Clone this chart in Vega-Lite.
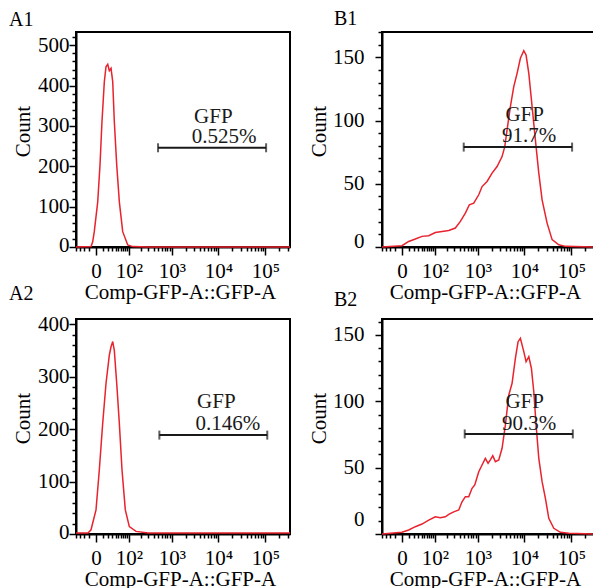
{
  "$schema": "https://vega.github.io/schema/vega-lite/v6.json",
  "padding": {"left": 8, "top": 8, "right": 0, "bottom": 0},
  "background": "white",
  "bounds": "flush",
  "columns": 2,
  "spacing": {"row": 72, "column": 92},
  "datasets": {
    "hist": [
      {"panel": "A1", "fl": -41.6, "count": 0}, {"panel": "A1", "fl": -6.9, "count": 1}, {"panel": "A1", "fl": -4.4, "count": 13}, {"panel": "A1", "fl": -2.2, "count": 38}, {"panel": "A1", "fl": 2.2, "count": 112}, {"panel": "A1", "fl": 5.4, "count": 203}, {"panel": "A1", "fl": 8.5, "count": 311}, {"panel": "A1", "fl": 12.6, "count": 410}, {"panel": "A1", "fl": 15.8, "count": 447}, {"panel": "A1", "fl": 19.4, "count": 453}, {"panel": "A1", "fl": 23.0, "count": 437}, {"panel": "A1", "fl": 27.2, "count": 443}, {"panel": "A1", "fl": 31.7, "count": 410}, {"panel": "A1", "fl": 36.3, "count": 311}, {"panel": "A1", "fl": 44.0, "count": 203}, {"panel": "A1", "fl": 53.4, "count": 112}, {"panel": "A1", "fl": 67.5, "count": 38}, {"panel": "A1", "fl": 93.3, "count": 5}, {"panel": "A1", "fl": 126, "count": 1}, {"panel": "A1", "fl": 300, "count": 0}, {"panel": "A1", "fl": 335000, "count": 0},
      {"panel": "A2", "fl": -41.6, "count": 2}, {"panel": "A2", "fl": -12, "count": 2}, {"panel": "A2", "fl": -6.9, "count": 8}, {"panel": "A2", "fl": 0, "count": 46}, {"panel": "A2", "fl": 4.4, "count": 122}, {"panel": "A2", "fl": 9.7, "count": 211}, {"panel": "A2", "fl": 15.8, "count": 287}, {"panel": "A2", "fl": 23.0, "count": 341}, {"panel": "A2", "fl": 27.2, "count": 357}, {"panel": "A2", "fl": 31.7, "count": 367}, {"panel": "A2", "fl": 36.3, "count": 350}, {"panel": "A2", "fl": 44.0, "count": 287}, {"panel": "A2", "fl": 53.4, "count": 211}, {"panel": "A2", "fl": 64.4, "count": 122}, {"panel": "A2", "fl": 80.1, "count": 46}, {"panel": "A2", "fl": 102.9, "count": 14}, {"panel": "A2", "fl": 152.6, "count": 5}, {"panel": "A2", "fl": 300, "count": 2}, {"panel": "A2", "fl": 335000, "count": 2},
      {"panel": "B1", "fl": -41.6, "count": 0}, {"panel": "B1", "fl": 0, "count": 1}, {"panel": "B1", "fl": 9.7, "count": 4.4}, {"panel": "B1", "fl": 23.0, "count": 6.3}, {"panel": "B1", "fl": 41.6, "count": 8.4}, {"panel": "B1", "fl": 67.5, "count": 8.9}, {"panel": "B1", "fl": 102.9, "count": 11.5}, {"panel": "B1", "fl": 152.6, "count": 12.3}, {"panel": "B1", "fl": 222, "count": 13.1}, {"panel": "B1", "fl": 316, "count": 15}, {"panel": "B1", "fl": 411, "count": 20.2}, {"panel": "B1", "fl": 532, "count": 26.8}, {"panel": "B1", "fl": 652, "count": 33.4}, {"panel": "B1", "fl": 815, "count": 34.7}, {"panel": "B1", "fl": 1048, "count": 41.3}, {"panel": "B1", "fl": 1237, "count": 47.8}, {"panel": "B1", "fl": 1588, "count": 51.8}, {"panel": "B1", "fl": 2035, "count": 58.4}, {"panel": "B1", "fl": 2607, "count": 63.6}, {"panel": "B1", "fl": 3338, "count": 71.5}, {"panel": "B1", "fl": 3815, "count": 79.4}, {"panel": "B1", "fl": 4273, "count": 92.6}, {"panel": "B1", "fl": 5028, "count": 111}, {"panel": "B1", "fl": 5943, "count": 126.8}, {"panel": "B1", "fl": 6990, "count": 137.3}, {"panel": "B1", "fl": 8225, "count": 149.2}, {"panel": "B1", "fl": 9725, "count": 155.2}, {"panel": "B1", "fl": 10880, "count": 151.8}, {"panel": "B1", "fl": 12430, "count": 137.3}, {"panel": "B1", "fl": 14625, "count": 111}, {"panel": "B1", "fl": 17180, "count": 84.7}, {"panel": "B1", "fl": 20300, "count": 58.4}, {"panel": "B1", "fl": 23870, "count": 37.3}, {"panel": "B1", "fl": 30500, "count": 18.9}, {"panel": "B1", "fl": 39000, "count": 5.8}, {"panel": "B1", "fl": 54150, "count": 1.8}, {"panel": "B1", "fl": 74850, "count": 0.5}, {"panel": "B1", "fl": 335000, "count": 0},
      {"panel": "B2", "fl": -41.6, "count": 0}, {"panel": "B2", "fl": 0, "count": 1.3}, {"panel": "B2", "fl": 9.7, "count": 3}, {"panel": "B2", "fl": 23.0, "count": 5.5}, {"panel": "B2", "fl": 41.6, "count": 7.5}, {"panel": "B2", "fl": 67.5, "count": 10.5}, {"panel": "B2", "fl": 102.9, "count": 13}, {"panel": "B2", "fl": 138, "count": 12.3}, {"panel": "B2", "fl": 184, "count": 13}, {"panel": "B2", "fl": 222, "count": 14.8}, {"panel": "B2", "fl": 290, "count": 16.7}, {"panel": "B2", "fl": 378, "count": 18.1}, {"panel": "B2", "fl": 448, "count": 24.3}, {"panel": "B2", "fl": 532, "count": 28.1}, {"panel": "B2", "fl": 632, "count": 28.1}, {"panel": "B2", "fl": 748, "count": 34.4}, {"panel": "B2", "fl": 858, "count": 37}, {"panel": "B2", "fl": 1048, "count": 46.9}, {"panel": "B2", "fl": 1237, "count": 52}, {"panel": "B2", "fl": 1458, "count": 57}, {"panel": "B2", "fl": 1670, "count": 53.3}, {"panel": "B2", "fl": 1870, "count": 55.8}, {"panel": "B2", "fl": 2108, "count": 59}, {"panel": "B2", "fl": 2398, "count": 54.5}, {"panel": "B2", "fl": 2837, "count": 55.8}, {"panel": "B2", "fl": 3338, "count": 64.6}, {"panel": "B2", "fl": 3930, "count": 82.1}, {"panel": "B2", "fl": 4645, "count": 104.7}, {"panel": "B2", "fl": 5467, "count": 113.6}, {"panel": "B2", "fl": 6430, "count": 132.4}, {"panel": "B2", "fl": 7343, "count": 144.9}, {"panel": "B2", "fl": 8225, "count": 147.5}, {"panel": "B2", "fl": 9725, "count": 137.4}, {"panel": "B2", "fl": 10880, "count": 129.8}, {"panel": "B2", "fl": 12430, "count": 133.6}, {"panel": "B2", "fl": 14125, "count": 124.9}, {"panel": "B2", "fl": 15890, "count": 107.2}, {"panel": "B2", "fl": 17790, "count": 82.1}, {"panel": "B2", "fl": 20300, "count": 57}, {"panel": "B2", "fl": 23870, "count": 39.4}, {"panel": "B2", "fl": 28080, "count": 26.9}, {"panel": "B2", "fl": 33150, "count": 11.8}, {"panel": "B2", "fl": 42380, "count": 4.3}, {"panel": "B2", "fl": 58620, "count": 1.3}, {"panel": "B2", "fl": 88430, "count": 0.5}, {"panel": "B2", "fl": 335000, "count": 0}
    ],
    "gates": [
      {"panel": "A1", "fl": 497, "fl2": 103900, "count": 246},
      {"panel": "A2", "fl": 532, "fl2": 110000, "count": 188.6},
      {"panel": "B1", "fl": 489, "fl2": 103900, "count": 79},
      {"panel": "B2", "fl": 515, "fl2": 107600, "count": 75.4}
    ],
    "texts": [
      {"panel": "A1", "fl": 3025, "count": 308, "label": "GFP"},
      {"panel": "A1", "fl": 2700, "count": 258, "label": "0.525%"},
      {"panel": "A2", "fl": 3508, "count": 240, "label": "GFP"},
      {"panel": "A2", "fl": 3226, "count": 198, "label": "0.146%"},
      {"panel": "B1", "fl": 3930, "count": 100, "label": "GFP"},
      {"panel": "B1", "fl": 3338, "count": 83.3, "label": "91.7%"},
      {"panel": "B2", "fl": 3930, "count": 94.7, "label": "GFP"},
      {"panel": "B2", "fl": 3338, "count": 78.4, "label": "90.3%"}
    ]
  },
  "concat": [
    {
      "width": 214, "height": 215,
      "title": {"text": "A1", "dx": -67, "offset": 2},
      "layer": [
        {"data": {"name": "hist"}, "transform": [{"filter": "datum.panel == 'A1'"}],
         "mark": {"type": "line", "color": "#e8232d", "strokeWidth": 1.5},
         "encoding": {
           "x": {"field": "fl", "type": "quantitative", "title": "Comp-GFP-A::GFP-A", "scale": {"type": "symlog", "constant": 25, "domain": [-41.6, 335000], "nice": false, "zero": false},
                 "axis": {"values": [-40,-30,-20,-10,0,10,20,30,40,50,60,70,80,90,100,200,300,400,500,600,700,800,900,1000,2000,3000,4000,5000,6000,7000,8000,9000,10000,20000,30000,40000,50000,60000,70000,80000,90000,100000,200000,300000],
                          "tickCount": 500,
                          "labelExpr": "datum.value == 0 ? '0' : datum.value == 100 ? '10²' : datum.value == 1000 ? '10³' : datum.value == 10000 ? '10⁴' : datum.value == 100000 ? '10⁵' : ''",
                          "tickSize": {"condition": {"test": "indexof([0,100,1000,10000,100000], datum.value) >= 0", "value": 8}, "value": 4},
                          "labelFontSize": {"condition": {"test": "indexof([0,100,1000,10000,100000], datum.value) < 0", "value": 0}, "value": 21},
                          "labelOverlap": false, "labelPadding": 22, "labelBaseline": "alphabetic", "titleX": 104, "titleY": 51, "titleBaseline": "alphabetic"}},
           "y": {"field": "count", "type": "quantitative", "title": "Count", "scale": {"domain": [0, 533], "nice": false},
                 "axis": {"values": [0,20,40,60,80,100,120,140,160,180,200,220,240,260,280,300,320,340,360,380,400,420,440,460,480,500,520],
                          "tickCount": 500,
                          "labelExpr": "datum.value % 100 == 0 ? format(datum.value, 'd') : ''",
                          "labelFontSize": {"condition": {"test": "datum.value % 100 != 0", "value": 0}, "value": 21},
                          "tickSize": {"condition": {"test": "datum.value % 100 == 0", "value": 7}, "value": 4},
                          "labelOverlap": false, "labelPadding": 0, "labelOffset": {"condition": {"test": "datum.value == 0", "value": -2}, "value": 0},
                          "titleX": -47, "titleY": 99, "titleBaseline": "alphabetic"}}
         }},
        {"data": {"name": "gates"}, "transform": [{"filter": "datum.panel == 'A1'"}],
         "mark": {"type": "rule", "color": "#1a1a1a", "strokeWidth": 2},
         "encoding": {"x": {"field": "fl", "type": "quantitative", "title": "Comp-GFP-A::GFP-A", "scale": {"type": "symlog", "constant": 25, "domain": [-41.6, 335000], "nice": false, "zero": false}}, "x2": {"field": "fl2"}, "y": {"field": "count", "type": "quantitative", "title": "Count", "scale": {"domain": [0, 533], "nice": false}}}},
        {"data": {"name": "gates"}, "transform": [{"filter": "datum.panel == 'A1'"}],
         "mark": {"type": "tick", "orient": "vertical", "size": 9, "thickness": 2, "color": "#1a1a1a"},
         "encoding": {"x": {"field": "fl", "type": "quantitative", "title": "Comp-GFP-A::GFP-A", "scale": {"type": "symlog", "constant": 25, "domain": [-41.6, 335000], "nice": false, "zero": false}}, "y": {"field": "count", "type": "quantitative", "title": "Count", "scale": {"domain": [0, 533], "nice": false}}}},
        {"data": {"name": "gates"}, "transform": [{"filter": "datum.panel == 'A1'"}],
         "mark": {"type": "tick", "orient": "vertical", "size": 9, "thickness": 2, "color": "#1a1a1a"},
         "encoding": {"x": {"field": "fl2", "type": "quantitative", "title": "Comp-GFP-A::GFP-A", "scale": {"type": "symlog", "constant": 25, "domain": [-41.6, 335000], "nice": false, "zero": false}}, "y": {"field": "count", "type": "quantitative", "title": "Count", "scale": {"domain": [0, 533], "nice": false}}}},
        {"data": {"name": "texts"}, "transform": [{"filter": "datum.panel == 'A1'"}],
         "mark": {"type": "text", "align": "left", "baseline": "alphabetic", "fontSize": 21, "font": "Liberation Serif", "color": "#1a1a1a"},
         "encoding": {"x": {"field": "fl", "type": "quantitative", "title": "Comp-GFP-A::GFP-A", "scale": {"type": "symlog", "constant": 25, "domain": [-41.6, 335000], "nice": false, "zero": false}}, "y": {"field": "count", "type": "quantitative", "title": "Count", "scale": {"domain": [0, 533], "nice": false}}, "text": {"field": "label"}}}
      ]
    },
    {
      "width": 214, "height": 215,
      "title": {"text": "B1", "dx": -48, "offset": 2},
      "layer": [
        {"data": {"name": "hist"}, "transform": [{"filter": "datum.panel == 'B1'"}],
         "mark": {"type": "line", "color": "#e8232d", "strokeWidth": 1.5},
         "encoding": {
           "x": {"field": "fl", "type": "quantitative", "title": "Comp-GFP-A::GFP-A", "scale": {"type": "symlog", "constant": 25, "domain": [-41.6, 335000], "nice": false, "zero": false},
                 "axis": {"values": [-40,-30,-20,-10,0,10,20,30,40,50,60,70,80,90,100,200,300,400,500,600,700,800,900,1000,2000,3000,4000,5000,6000,7000,8000,9000,10000,20000,30000,40000,50000,60000,70000,80000,90000,100000,200000,300000],
                          "tickCount": 500,
                          "labelExpr": "datum.value == 0 ? '0' : datum.value == 100 ? '10²' : datum.value == 1000 ? '10³' : datum.value == 10000 ? '10⁴' : datum.value == 100000 ? '10⁵' : ''",
                          "tickSize": {"condition": {"test": "indexof([0,100,1000,10000,100000], datum.value) >= 0", "value": 8}, "value": 4},
                          "labelFontSize": {"condition": {"test": "indexof([0,100,1000,10000,100000], datum.value) < 0", "value": 0}, "value": 21},
                          "labelOverlap": false, "labelPadding": 22, "labelBaseline": "alphabetic", "titleX": 103, "titleY": 51, "titleBaseline": "alphabetic"}},
           "y": {"field": "count", "type": "quantitative", "title": "Count", "scale": {"domain": [0, 170], "nice": false},
                 "axis": {"values": [0,10,20,30,40,50,60,70,80,90,100,110,120,130,140,150,160,170],
                          "tickCount": 500,
                          "labelExpr": "datum.value % 50 == 0 ? format(datum.value, 'd') : ''",
                          "labelFontSize": {"condition": {"test": "datum.value % 50 != 0", "value": 0}, "value": 21},
                          "tickSize": {"condition": {"test": "datum.value % 50 == 0", "value": 7}, "value": 4},
                          "labelOverlap": false, "labelPadding": 11, "labelOffset": {"condition": {"test": "datum.value == 0", "value": -6}, "value": 0},
                          "titleX": -57, "titleY": 99, "titleBaseline": "alphabetic"}}
         }},
        {"data": {"name": "gates"}, "transform": [{"filter": "datum.panel == 'B1'"}],
         "mark": {"type": "rule", "color": "#1a1a1a", "strokeWidth": 2},
         "encoding": {"x": {"field": "fl", "type": "quantitative", "title": "Comp-GFP-A::GFP-A", "scale": {"type": "symlog", "constant": 25, "domain": [-41.6, 335000], "nice": false, "zero": false}}, "x2": {"field": "fl2"}, "y": {"field": "count", "type": "quantitative", "title": "Count", "scale": {"domain": [0, 170], "nice": false}}}},
        {"data": {"name": "gates"}, "transform": [{"filter": "datum.panel == 'B1'"}],
         "mark": {"type": "tick", "orient": "vertical", "size": 9, "thickness": 2, "color": "#1a1a1a"},
         "encoding": {"x": {"field": "fl", "type": "quantitative", "title": "Comp-GFP-A::GFP-A", "scale": {"type": "symlog", "constant": 25, "domain": [-41.6, 335000], "nice": false, "zero": false}}, "y": {"field": "count", "type": "quantitative", "title": "Count", "scale": {"domain": [0, 170], "nice": false}}}},
        {"data": {"name": "gates"}, "transform": [{"filter": "datum.panel == 'B1'"}],
         "mark": {"type": "tick", "orient": "vertical", "size": 9, "thickness": 2, "color": "#1a1a1a"},
         "encoding": {"x": {"field": "fl2", "type": "quantitative", "title": "Comp-GFP-A::GFP-A", "scale": {"type": "symlog", "constant": 25, "domain": [-41.6, 335000], "nice": false, "zero": false}}, "y": {"field": "count", "type": "quantitative", "title": "Count", "scale": {"domain": [0, 170], "nice": false}}}},
        {"data": {"name": "texts"}, "transform": [{"filter": "datum.panel == 'B1'"}],
         "mark": {"type": "text", "align": "left", "baseline": "alphabetic", "fontSize": 21, "font": "Liberation Serif", "color": "#1a1a1a"},
         "encoding": {"x": {"field": "fl", "type": "quantitative", "title": "Comp-GFP-A::GFP-A", "scale": {"type": "symlog", "constant": 25, "domain": [-41.6, 335000], "nice": false, "zero": false}}, "y": {"field": "count", "type": "quantitative", "title": "Count", "scale": {"domain": [0, 170], "nice": false}}, "text": {"field": "label"}}}
      ]
    },
    {
      "width": 214, "height": 215,
      "title": {"text": "A2", "dx": -67, "offset": 9},
      "layer": [
        {"data": {"name": "hist"}, "transform": [{"filter": "datum.panel == 'A2'"}],
         "mark": {"type": "line", "color": "#e8232d", "strokeWidth": 1.5},
         "encoding": {
           "x": {"field": "fl", "type": "quantitative", "title": "Comp-GFP-A::GFP-A", "scale": {"type": "symlog", "constant": 25, "domain": [-41.6, 335000], "nice": false, "zero": false},
                 "axis": {"values": [-40,-30,-20,-10,0,10,20,30,40,50,60,70,80,90,100,200,300,400,500,600,700,800,900,1000,2000,3000,4000,5000,6000,7000,8000,9000,10000,20000,30000,40000,50000,60000,70000,80000,90000,100000,200000,300000],
                          "tickCount": 500,
                          "labelExpr": "datum.value == 0 ? '0' : datum.value == 100 ? '10²' : datum.value == 1000 ? '10³' : datum.value == 10000 ? '10⁴' : datum.value == 100000 ? '10⁵' : ''",
                          "tickSize": {"condition": {"test": "indexof([0,100,1000,10000,100000], datum.value) >= 0", "value": 8}, "value": 4},
                          "labelFontSize": {"condition": {"test": "indexof([0,100,1000,10000,100000], datum.value) < 0", "value": 0}, "value": 21},
                          "labelOverlap": false, "labelPadding": 22, "labelBaseline": "alphabetic", "titleX": 104, "titleY": 51, "titleBaseline": "alphabetic"}},
           "y": {"field": "count", "type": "quantitative", "title": "Count", "scale": {"domain": [0, 410], "nice": false},
                 "axis": {"values": [0,20,40,60,80,100,120,140,160,180,200,220,240,260,280,300,320,340,360,380,400],
                          "tickCount": 500,
                          "labelExpr": "datum.value % 100 == 0 ? format(datum.value, 'd') : ''",
                          "labelFontSize": {"condition": {"test": "datum.value % 100 != 0", "value": 0}, "value": 21},
                          "tickSize": {"condition": {"test": "datum.value % 100 == 0", "value": 7}, "value": 4},
                          "labelOverlap": false, "labelPadding": 0, "labelOffset": {"condition": {"test": "datum.value == 0", "value": -2}, "value": 0},
                          "titleX": -47, "titleY": 99, "titleBaseline": "alphabetic"}}
         }},
        {"data": {"name": "gates"}, "transform": [{"filter": "datum.panel == 'A2'"}],
         "mark": {"type": "rule", "color": "#1a1a1a", "strokeWidth": 2},
         "encoding": {"x": {"field": "fl", "type": "quantitative", "title": "Comp-GFP-A::GFP-A", "scale": {"type": "symlog", "constant": 25, "domain": [-41.6, 335000], "nice": false, "zero": false}}, "x2": {"field": "fl2"}, "y": {"field": "count", "type": "quantitative", "title": "Count", "scale": {"domain": [0, 410], "nice": false}}}},
        {"data": {"name": "gates"}, "transform": [{"filter": "datum.panel == 'A2'"}],
         "mark": {"type": "tick", "orient": "vertical", "size": 9, "thickness": 2, "color": "#1a1a1a"},
         "encoding": {"x": {"field": "fl", "type": "quantitative", "title": "Comp-GFP-A::GFP-A", "scale": {"type": "symlog", "constant": 25, "domain": [-41.6, 335000], "nice": false, "zero": false}}, "y": {"field": "count", "type": "quantitative", "title": "Count", "scale": {"domain": [0, 410], "nice": false}}}},
        {"data": {"name": "gates"}, "transform": [{"filter": "datum.panel == 'A2'"}],
         "mark": {"type": "tick", "orient": "vertical", "size": 9, "thickness": 2, "color": "#1a1a1a"},
         "encoding": {"x": {"field": "fl2", "type": "quantitative", "title": "Comp-GFP-A::GFP-A", "scale": {"type": "symlog", "constant": 25, "domain": [-41.6, 335000], "nice": false, "zero": false}}, "y": {"field": "count", "type": "quantitative", "title": "Count", "scale": {"domain": [0, 410], "nice": false}}}},
        {"data": {"name": "texts"}, "transform": [{"filter": "datum.panel == 'A2'"}],
         "mark": {"type": "text", "align": "left", "baseline": "alphabetic", "fontSize": 21, "font": "Liberation Serif", "color": "#1a1a1a"},
         "encoding": {"x": {"field": "fl", "type": "quantitative", "title": "Comp-GFP-A::GFP-A", "scale": {"type": "symlog", "constant": 25, "domain": [-41.6, 335000], "nice": false, "zero": false}}, "y": {"field": "count", "type": "quantitative", "title": "Count", "scale": {"domain": [0, 410], "nice": false}}, "text": {"field": "label"}}}
      ]
    },
    {
      "width": 214, "height": 215,
      "title": {"text": "B2", "dx": -48, "offset": 9},
      "layer": [
        {"data": {"name": "hist"}, "transform": [{"filter": "datum.panel == 'B2'"}],
         "mark": {"type": "line", "color": "#e8232d", "strokeWidth": 1.5},
         "encoding": {
           "x": {"field": "fl", "type": "quantitative", "title": "Comp-GFP-A::GFP-A", "scale": {"type": "symlog", "constant": 25, "domain": [-41.6, 335000], "nice": false, "zero": false},
                 "axis": {"values": [-40,-30,-20,-10,0,10,20,30,40,50,60,70,80,90,100,200,300,400,500,600,700,800,900,1000,2000,3000,4000,5000,6000,7000,8000,9000,10000,20000,30000,40000,50000,60000,70000,80000,90000,100000,200000,300000],
                          "tickCount": 500,
                          "labelExpr": "datum.value == 0 ? '0' : datum.value == 100 ? '10²' : datum.value == 1000 ? '10³' : datum.value == 10000 ? '10⁴' : datum.value == 100000 ? '10⁵' : ''",
                          "tickSize": {"condition": {"test": "indexof([0,100,1000,10000,100000], datum.value) >= 0", "value": 8}, "value": 4},
                          "labelFontSize": {"condition": {"test": "indexof([0,100,1000,10000,100000], datum.value) < 0", "value": 0}, "value": 21},
                          "labelOverlap": false, "labelPadding": 22, "labelBaseline": "alphabetic", "titleX": 103, "titleY": 51, "titleBaseline": "alphabetic"}},
           "y": {"field": "count", "type": "quantitative", "title": "Count", "scale": {"domain": [0, 162], "nice": false},
                 "axis": {"values": [0,10,20,30,40,50,60,70,80,90,100,110,120,130,140,150,160],
                          "tickCount": 500,
                          "labelExpr": "datum.value % 50 == 0 ? format(datum.value, 'd') : ''",
                          "labelFontSize": {"condition": {"test": "datum.value % 50 != 0", "value": 0}, "value": 21},
                          "tickSize": {"condition": {"test": "datum.value % 50 == 0", "value": 7}, "value": 4},
                          "labelOverlap": false, "labelPadding": 11, "labelOffset": {"condition": {"test": "datum.value == 0", "value": -15}, "value": 0},
                          "titleX": -57, "titleY": 99, "titleBaseline": "alphabetic"}}
         }},
        {"data": {"name": "gates"}, "transform": [{"filter": "datum.panel == 'B2'"}],
         "mark": {"type": "rule", "color": "#1a1a1a", "strokeWidth": 2},
         "encoding": {"x": {"field": "fl", "type": "quantitative", "title": "Comp-GFP-A::GFP-A", "scale": {"type": "symlog", "constant": 25, "domain": [-41.6, 335000], "nice": false, "zero": false}}, "x2": {"field": "fl2"}, "y": {"field": "count", "type": "quantitative", "title": "Count", "scale": {"domain": [0, 162], "nice": false}}}},
        {"data": {"name": "gates"}, "transform": [{"filter": "datum.panel == 'B2'"}],
         "mark": {"type": "tick", "orient": "vertical", "size": 9, "thickness": 2, "color": "#1a1a1a"},
         "encoding": {"x": {"field": "fl", "type": "quantitative", "title": "Comp-GFP-A::GFP-A", "scale": {"type": "symlog", "constant": 25, "domain": [-41.6, 335000], "nice": false, "zero": false}}, "y": {"field": "count", "type": "quantitative", "title": "Count", "scale": {"domain": [0, 162], "nice": false}}}},
        {"data": {"name": "gates"}, "transform": [{"filter": "datum.panel == 'B2'"}],
         "mark": {"type": "tick", "orient": "vertical", "size": 9, "thickness": 2, "color": "#1a1a1a"},
         "encoding": {"x": {"field": "fl2", "type": "quantitative", "title": "Comp-GFP-A::GFP-A", "scale": {"type": "symlog", "constant": 25, "domain": [-41.6, 335000], "nice": false, "zero": false}}, "y": {"field": "count", "type": "quantitative", "title": "Count", "scale": {"domain": [0, 162], "nice": false}}}},
        {"data": {"name": "texts"}, "transform": [{"filter": "datum.panel == 'B2'"}],
         "mark": {"type": "text", "align": "left", "baseline": "alphabetic", "fontSize": 21, "font": "Liberation Serif", "color": "#1a1a1a"},
         "encoding": {"x": {"field": "fl", "type": "quantitative", "title": "Comp-GFP-A::GFP-A", "scale": {"type": "symlog", "constant": 25, "domain": [-41.6, 335000], "nice": false, "zero": false}}, "y": {"field": "count", "type": "quantitative", "title": "Count", "scale": {"domain": [0, 162], "nice": false}}, "text": {"field": "label"}}}
      ]
    }
  ],
  "config": {
    "font": "Liberation Serif",
    "view": {"stroke": "#000", "strokeWidth": 2},
    "title": {"anchor": "start", "frame": "group", "font": "Liberation Serif", "fontSize": 20, "fontWeight": "normal", "baseline": "alphabetic", "color": "#000"},
    "axis": {"grid": false, "domainColor": "#000", "domainWidth": 2, "tickColor": "#000", "tickWidth": 1.5, "labelColor": "#000", "titleColor": "#000", "labelFont": "Liberation Serif", "titleFont": "Liberation Serif", "labelFontSize": 21, "titleFontSize": 21, "titleFontWeight": "normal", "labelOverlap": false, "labelBound": false, "labelFlush": false}
  }
}
